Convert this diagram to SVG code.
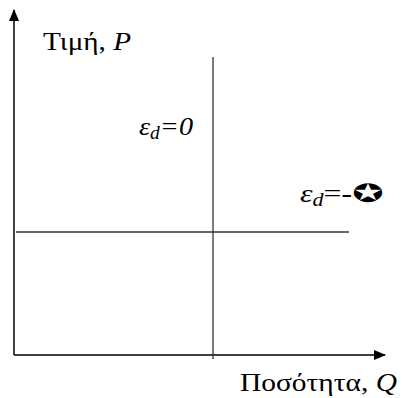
<svg xmlns="http://www.w3.org/2000/svg" width="402" height="398" viewBox="0 0 402 398">
<defs>
<marker id="ah" markerWidth="12" markerHeight="10" refX="11" refY="5" orient="auto" markerUnits="userSpaceOnUse">
<path d="M0,0 L12,5 L0,10 Z" fill="#000"/>
</marker>
</defs>
<rect width="402" height="398" fill="#fff"/>
<g id="connectors" fill="none">
<line stroke="#000" stroke-width="1.5" x1="14" y1="355" x2="14" y2="10" marker-end="url(#ah)"/>
<line stroke="#000" stroke-width="1.5" x1="14" y1="355" x2="385" y2="355" marker-end="url(#ah)"/>
<line stroke="#333" stroke-width="1.3" x1="213" y1="57" x2="213" y2="359"/>
<line stroke="#333" stroke-width="1.3" x1="16" y1="232" x2="349" y2="232"/>
</g>
<g id="ylabel"><text x="43" y="50" font-family="Liberation Serif, Times New Roman, serif" font-size="26" textLength="88" lengthAdjust="spacingAndGlyphs">Τιμή, <tspan font-style="italic">P</tspan></text></g>
<g id="xlabel"><text x="240" y="391" font-family="Liberation Serif, Times New Roman, serif" font-size="26" textLength="157" lengthAdjust="spacingAndGlyphs">Ποσότητα, <tspan font-style="italic">Q</tspan></text></g>
<g id="e0"><text x="139" y="135" font-family="Liberation Serif, Times New Roman, serif" font-size="26" font-style="italic" textLength="54" lengthAdjust="spacingAndGlyphs">ε<tspan font-size="18" dy="4">d</tspan><tspan dy="-4">=0</tspan></text></g>
<g id="einf"><text x="300" y="202" font-family="Liberation Serif, Times New Roman, serif" font-size="26" textLength="52" lengthAdjust="spacingAndGlyphs"><tspan font-style="italic">ε</tspan><tspan font-style="italic" font-size="18" dy="4">d</tspan><tspan dy="-4">=-</tspan></text>
<text transform="translate(368,202) scale(1.5,1)" text-anchor="middle" font-family="DejaVu Sans" font-weight="bold" font-size="25">✪</text></g>
</svg>
